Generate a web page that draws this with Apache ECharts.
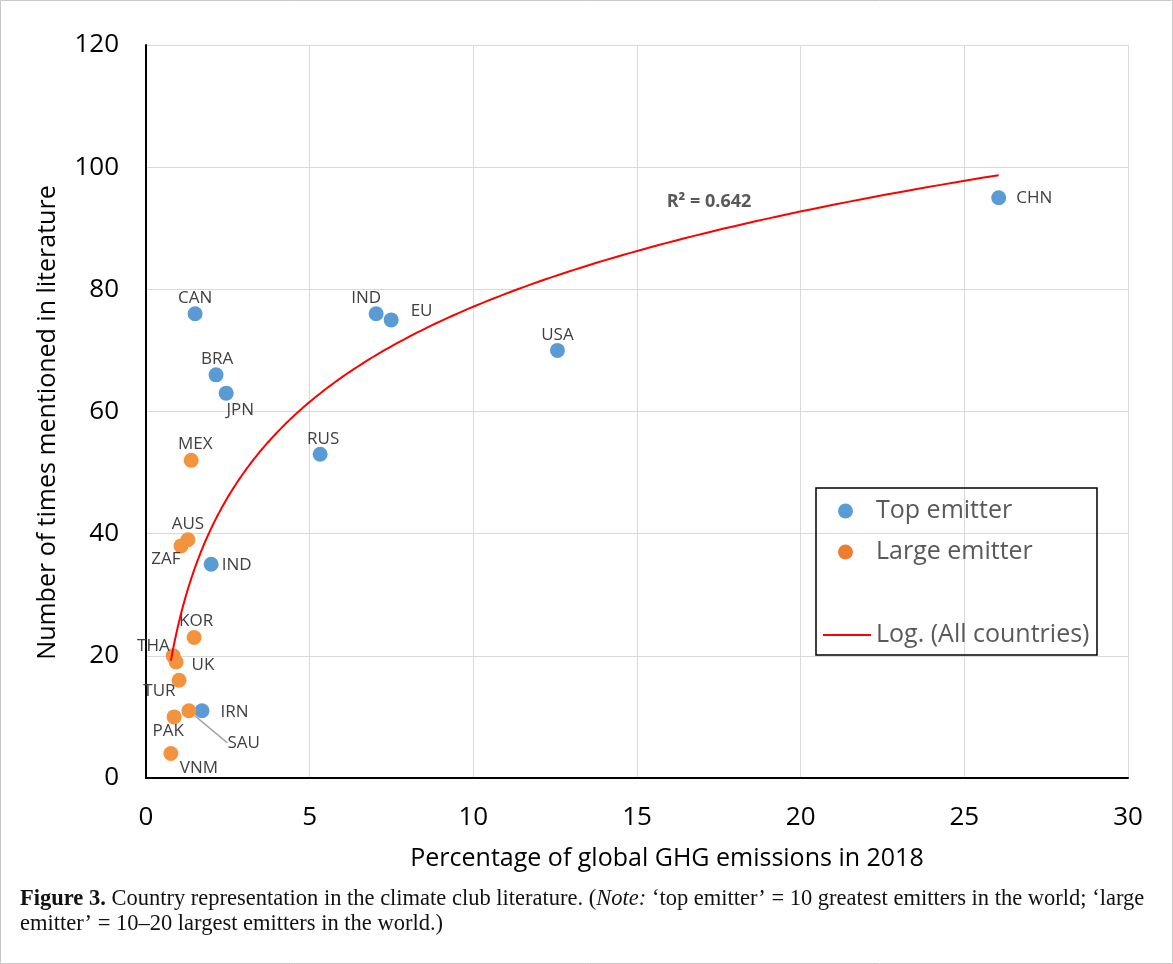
<!DOCTYPE html>
<html><head><meta charset="utf-8">
<script src="https://cdn.jsdelivr.net/npm/echarts@6/dist/echarts.min.js"></script>
<style>html,body{margin:0;padding:0;background:#fff}#c{width:1173px;height:964px}</style>
</head><body><div id="c"></div>
<script>
// ---- data ----
const topNames = ['CHN','USA','IND','EU','RUS','CAN','BRA','JPN','IND','IRN'];
const topX     = [26.05, 12.57, 7.03, 7.49, 5.32, 1.50, 2.14, 2.45, 1.99, 1.71];
const topY     = [95, 70, 76, 75, 53, 76, 66, 63, 35, 11];
const largeNames = ['MEX','AUS','ZAF','KOR','THA','UK','TUR','SAU','PAK','VNM'];
const largeX     = [1.38, 1.28, 1.07, 1.47, 0.83, 0.92, 1.01, 1.31, 0.86, 0.76];
const largeY     = [52, 39, 38, 23, 20, 19, 16, 11, 10, 4];
const xTicks = [0,5,10,15,20,25,30];
const yTicks = [0,20,40,60,80,100,120];
const r2Text = 'R² = 0.642';

// ---- label placement (style): [position, dx, dy] ----
const topLabel = [
  ['right',2,0], ['top',0,2], ['top',-10,1], ['right',4,-9], ['top',3,2],
  ['top',0,1], ['top',1,1], ['bottom',14,0], ['right',-5,1], ['right',3,1]
];
const largeLabel = [
  ['top',4,1], ['top',0,1], ['left',8,13], ['top',2,1], ['left',5,-10],
  ['right',0,3], ['left',5,11], ['right',23,32], ['bottom',-6,-3], ['bottom',28,-2]
];
const labelStyles = [topLabel, largeLabel];

// ---- logarithmic least-squares fit over all countries ----
const allX = topX.concat(largeX), allY = topY.concat(largeY);
const n = allX.length;
const lx = allX.map(Math.log);
const mL = lx.reduce((a,b)=>a+b,0)/n, mY = allY.reduce((a,b)=>a+b,0)/n;
let sxy=0, sxx=0;
for (let i=0;i<n;i++){ sxy+=(lx[i]-mL)*(allY[i]-mY); sxx+=(lx[i]-mL)*(lx[i]-mL); }
const slope = sxy/sxx, icpt = mY - slope*mL;
const xmin = Math.min(...allX), xmax = Math.max(...allX);
const trend = [];
for (let i=0;i<=200;i++){ const x = xmin*Math.pow(xmax/xmin, i/200); trend.push([x, slope*Math.log(x)+icpt]); }

const FONT = '"Open Sans", "Liberation Sans", sans-serif';
const LBL = '#404040';
function mk(names, xs, ys, lbl){
  return names.map((nm,i)=>{
    const item = {name:nm, value:[xs[i], ys[i]],
      label:{show:true, color:LBL, fontSize:17, fontFamily:FONT, formatter:nm,
             position:lbl[i][0], distance: lbl[i][0]==='right' ? 8 : 1}};
    if (nm==='SAU') item.labelLine = {show:true, lineStyle:{color:'#a6a6a6', width:1.5}};
    return item;
  });
}

const chart = echarts.init(document.getElementById('c'), null, {renderer:'canvas'});
chart.setOption({
  animation:false,
  backgroundColor:'#fff',
  grid:{left:146, right:45, top:45, bottom:186},
  xAxis:{type:'value', min:0, max:30, interval:5,
    name:'Percentage of global GHG emissions in 2018', nameLocation:'middle', nameGap:68,
    nameTextStyle:{fontSize:25, color:'#000', fontFamily:FONT, padding:[0,0,0,60]},
    axisLine:{show:true, onZero:false, lineStyle:{color:'#000', width:2}},
    axisTick:{show:false},
    axisLabel:{fontSize:26, color:'#000', fontFamily:FONT, margin:27, formatter:v=>xTicks.includes(v)?String(v):''},
    splitLine:{show:true, lineStyle:{color:'#d9d9d9', width:1}}
  },
  yAxis:{type:'value', min:0, max:120, interval:20,
    name:'Number of times mentioned in literature', nameLocation:'middle', nameGap:86, nameRotate:90,
    nameTextStyle:{fontSize:25, color:'#000', fontFamily:FONT, padding:[0,0,0,-22]},
    axisLine:{show:true, onZero:false, lineStyle:{color:'#000', width:2}},
    axisTick:{show:false},
    axisLabel:{fontSize:26, color:'#000', fontFamily:FONT, margin:27, formatter:v=>yTicks.includes(v)?String(v):''},
    splitLine:{show:true, lineStyle:{color:'#d9d9d9', width:1}}
  },
  legend:[
    {orient:'vertical', left:838, top:495, padding:0, itemWidth:15, itemHeight:15, itemGap:9,
     icon:'circle',
     textStyle:{fontSize:25, color:'#595959', fontFamily:FONT, padding:[0,0,0,18], lineHeight:32},
     data:[{name:'Top emitter', itemStyle:{color:'#5B9BD5'}}, {name:'Large emitter', itemStyle:{color:'#ED7D31'}}]},
    {orient:'vertical', left:823, top:619, padding:0, itemWidth:48, itemHeight:2, icon:'rect',
     textStyle:{fontSize:25, color:'#595959', fontFamily:FONT, lineHeight:32},
     data:[{name:'Log. (All countries)', itemStyle:{color:'#FF0000'}}]}
  ],
  labelLayout:function(p){
    const s = labelStyles[p.seriesIndex];
    if (!s) return;
    const e = s[p.dataIndex];
    return {dx:e[1], dy:e[2]};
  },
  series:[
    {name:'Top emitter', type:'scatter', symbolSize:15, itemStyle:{color:'#5B9BD5', opacity:1}, z:3,
     data:mk(topNames, topX, topY, topLabel)},
    {name:'Large emitter', type:'scatter', symbolSize:15, itemStyle:{color:'#F4933D', opacity:1}, z:3,
     data:mk(largeNames, largeX, largeY, largeLabel)},
    {name:'Log. (All countries)', type:'line', showSymbol:false, symbol:'none', smooth:false, z:4,
     lineStyle:{color:'#FF0000', width:2}, itemStyle:{color:'#FF0000'},
     data:trend,
     markPoint:{symbol:'circle', symbolSize:0, silent:true,
       label:{show:true, formatter:r2Text, color:'#595959', fontSize:18, fontWeight:'bold', fontFamily:FONT, position:'inside'},
       data:[{coord:[17.2, 94.3]}]}
    }
  ],
  graphic:[
    {type:'rect', shape:{x:816, y:488, width:281, height:167}, style:{fill:'none', stroke:'#000', lineWidth:1.5}, z:10},
    {type:'rect', shape:{x:0.5, y:0.5, width:1172, height:963}, style:{fill:'none', stroke:'#c8c8c8', lineWidth:1}, z:10},
    {type:'text', x:20, y:899, z:10, style:{
      text:'{b|Figure 3.} Country representation in the climate club literature. ({i|Note:} ‘top emitter’ = 10 greatest emitters in the world; ‘large',
      font:'22.5px "Liberation Serif", serif', fill:'#111', verticalAlign:'middle',
      rich:{b:{fontWeight:'bold', fontSize:22.5, fontFamily:'"Liberation Serif", serif'}, i:{fontStyle:'italic', fontSize:22.5, fontFamily:'"Liberation Serif", serif'}}}},
    {type:'text', x:20, y:924, z:10, style:{
      text:'emitter’ = 10–20 largest emitters in the world.)',
      font:'22.5px "Liberation Serif", serif', fill:'#111', verticalAlign:'middle'}}
  ]
});
</script></body></html>
